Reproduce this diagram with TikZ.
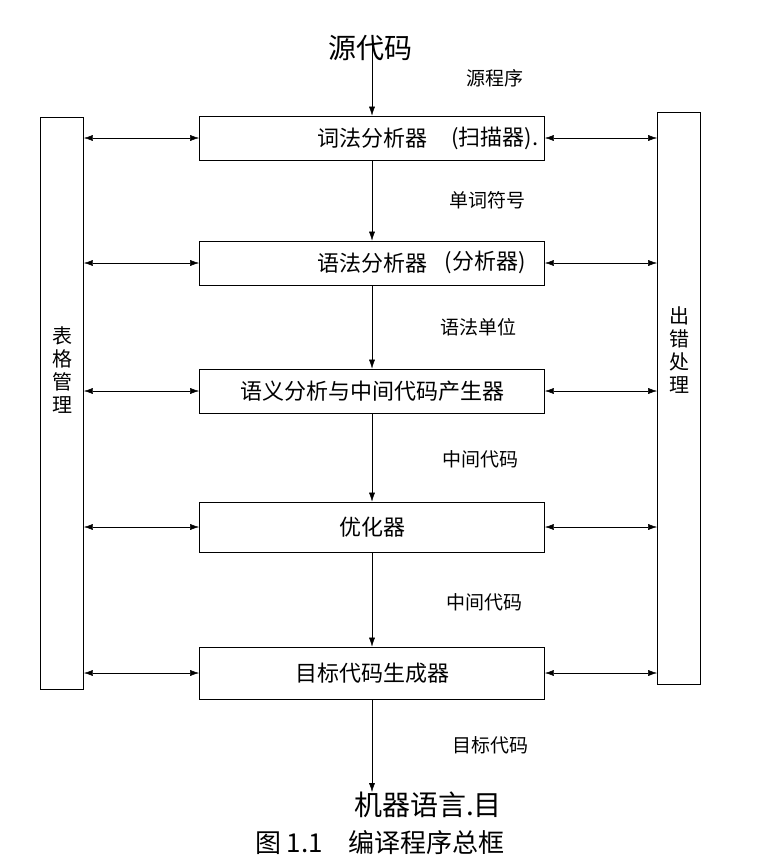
\documentclass[tikz,border=0pt]{standalone}
\usepackage{fontspec}
\setmainfont{Noto Sans CJK SC}
\usepackage{tikz}
\usetikzlibrary{positioning,arrows.meta}

\begin{document}
\begin{tikzpicture}[x=1pt,y=-1pt,
  stage/.style={draw,thick,minimum width=345pt,minimum height=44pt,font=\fontsize{22}{22}\selectfont},
  sidebox/.style={draw,thick,minimum width=43pt,minimum height=572pt},
  sidetext/.style={align=center,font=\fontsize{20}{23}\selectfont},
  lbl/.style={font=\fontsize{19}{19}\selectfont},
  hand/.style={font=\fontsize{28}{28}\selectfont},
  flow/.style={-{Latex[length=9pt,width=6pt]}},
  link/.style={{Latex[length=9pt,width=6pt]}-{Latex[length=9pt,width=6pt]}}]
\useasboundingbox (0,0) rectangle (770,865);

% the five stages
\node[stage] (lex) at (372,138) {词法分析器};
\node[stage] (syn) at (372,263) {语法分析器};
\node[stage] (sem) at (372,391) {语义分析与中间代码产生器};
\node[stage,minimum height=50pt] (opt) at (372,527) {优化器};
\node[stage,minimum height=52pt] (gen) at (372,673) {目标代码生成器};

% side boxes
\node[sidebox] (tbl) at (62,403) {};
\node[sidebox] (err) at (679,398) {};
\node[sidetext] (tbltxt) at (62,370) {表\\格\\管\\理};
\node[sidetext] (errtxt) at (679,350) {出\\错\\处\\理};

% main flow
\coordinate (src) at (372,40);
\coordinate (out) at (372,792);
\draw[flow] (src) -- (lex);
\draw[flow] (lex) -- (syn);
\draw[flow] (syn) -- (sem);
\draw[flow] (sem) -- (opt);
\draw[flow] (opt) -- (gen);
\draw[flow] (gen) -- (out);

\node[lbl] (l1) at (495,78) {源程序};
\node[lbl] (l2) at (487,200) {单词符号};
\node[lbl] (l3) at (478,327) {语法单位};
\node[lbl] (l4) at (480,459) {中间代码};
\node[lbl] (l5) at (484,602) {中间代码};
\node[lbl] (l6) at (490,745) {目标代码};

% links to the side boxes
\foreach \s in {lex,syn,sem,opt,gen} {
  \draw[link] (tbl.east |- \s.west) -- (\s.west);
  \draw[link] (\s.east) -- (err.west |- \s.east);
}

% notes written by hand
\node[hand] (n1) at (370,48) {源代码};
\node[hand,font=\fontsize{22}{22}\selectfont] (n2) at (495,138) {(扫描器).};
\node[hand,font=\fontsize{22}{22}\selectfont] (n3) at (485,262) {(分析器)};
\node[hand] (n4) at (428,805) {机器语言.目};

\node[font=\fontsize{26}{26}\selectfont] (cap) at (380,843) {图 1.1\quad 编译程序总框};
\end{tikzpicture}
\end{document}
